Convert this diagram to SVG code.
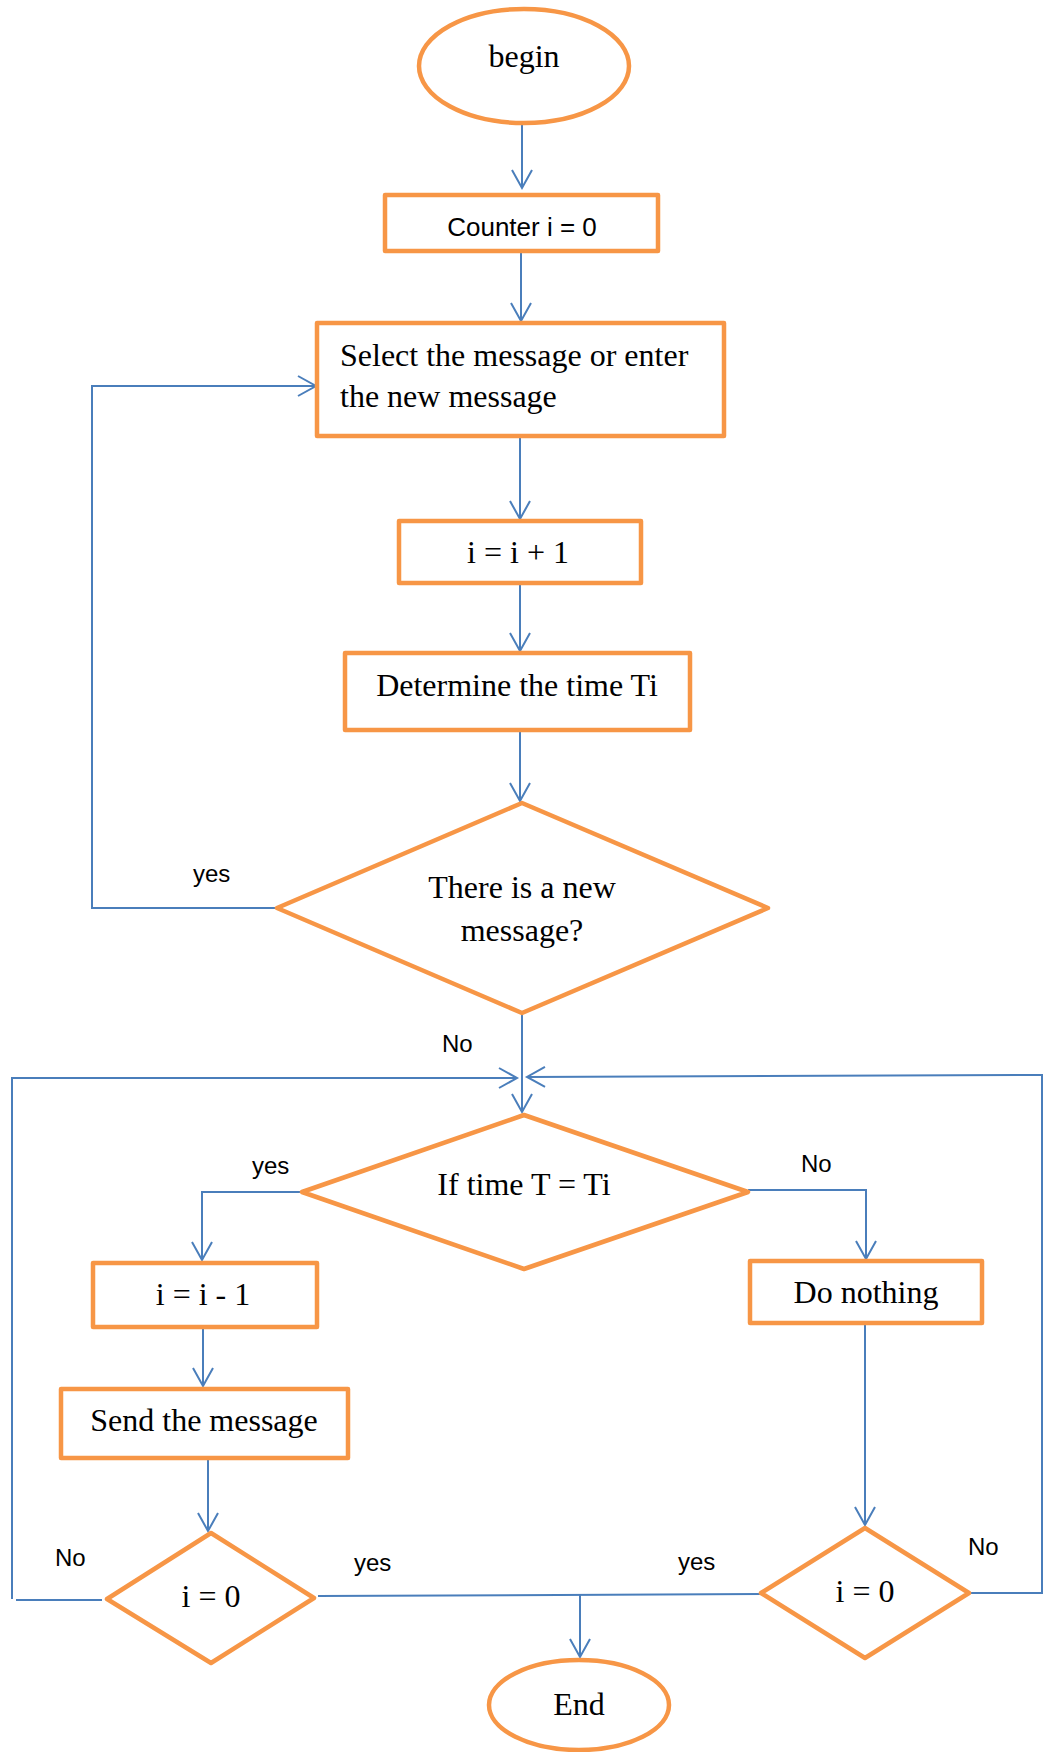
<svg xmlns="http://www.w3.org/2000/svg" width="1045" height="1752" viewBox="0 0 1045 1752">
<style>
.box{fill:#fff;stroke:#F79646;stroke-width:4.5;stroke-linejoin:round}
.conn{fill:none;stroke:#4A7EBB;stroke-width:2}
.serif{font-family:"Liberation Serif","Times New Roman",serif;font-size:32px;fill:#000}
.sans{font-family:"Liberation Sans",Arial,sans-serif;font-size:24px;fill:#000}
.mid{text-anchor:middle}
</style>
<defs>
<marker id="arr" markerUnits="userSpaceOnUse" markerWidth="24" markerHeight="24" viewBox="-20 -12 24 24" refX="0" refY="0" orient="auto">
<path d="M-18,-10 L0,0 L-18,10" fill="none" stroke="#4A7EBB" stroke-width="2"/>
</marker>
</defs>
<rect width="1045" height="1752" fill="#fff"/>
<g id="connectors">
<path class="conn" d="M522,124 L522,188" marker-end="url(#arr)"/>
<path class="conn" d="M521,251 L521,321" marker-end="url(#arr)"/>
<path class="conn" d="M520,436 L520,519" marker-end="url(#arr)"/>
<path class="conn" d="M520,583 L520,651" marker-end="url(#arr)"/>
<path class="conn" d="M520,730 L520,801" marker-end="url(#arr)"/>
<path class="conn" d="M277,908 L92,908 L92,386 L316,386" marker-end="url(#arr)"/>
<path class="conn" d="M522,1013 L522,1112" marker-end="url(#arr)"/>
<path class="conn" d="M102,1600 L16,1600"/>
<path class="conn" d="M12,1599 L12,1078 L517,1078" marker-end="url(#arr)"/>
<path class="conn" d="M969,1593 L1042,1593 L1042,1075 L527,1077" marker-end="url(#arr)"/>
<path class="conn" d="M302,1192 L202,1192 L202,1260" marker-end="url(#arr)"/>
<path class="conn" d="M748,1190 L866,1190 L866,1259" marker-end="url(#arr)"/>
<path class="conn" d="M203,1327 L203,1386" marker-end="url(#arr)"/>
<path class="conn" d="M208,1458 L208,1531" marker-end="url(#arr)"/>
<path class="conn" d="M865,1323 L865,1525" marker-end="url(#arr)"/>
<path class="conn" d="M318,1596 L761,1594"/>
<path class="conn" d="M580,1595 L580,1657" marker-end="url(#arr)"/>
<text class="sans" x="193" y="882">yes</text>
<text class="sans" x="442" y="1052">No</text>
<text class="sans" x="252" y="1174">yes</text>
<text class="sans" x="801" y="1172">No</text>
<text class="sans" x="55" y="1566">No</text>
<text class="sans" x="354" y="1571">yes</text>
<text class="sans" x="678" y="1570">yes</text>
<text class="sans" x="968" y="1555">No</text>
</g>
<g id="begin">
<ellipse class="box" cx="524" cy="66" rx="105" ry="57"/>
<text class="serif mid" x="524" y="67">begin</text>
</g>
<g id="counter">
<rect class="box" x="385" y="195" width="273" height="56"/>
<text class="sans mid" x="522" y="236" style="font-size:26px">Counter i = 0</text>
</g>
<g id="select">
<rect class="box" x="317" y="323" width="407" height="113"/>
<text class="serif" x="340" y="366">Select the message or enter</text>
<text class="serif" x="340" y="407">the new message</text>
</g>
<g id="increment">
<rect class="box" x="399" y="521" width="242" height="62"/>
<text class="serif mid" x="518" y="563">i = i + 1</text>
</g>
<g id="determine">
<rect class="box" x="345" y="653" width="345" height="77"/>
<text class="serif mid" x="517" y="696">Determine the time Ti</text>
</g>
<g id="newmsg">
<polygon class="box" points="522,803 768,908 522,1013 277,908"/>
<text class="serif mid" x="522" y="898">There is a new</text>
<text class="serif mid" x="522" y="941">message?</text>
</g>
<g id="timecheck">
<polygon class="box" points="524,1115 748,1192 524,1269 302,1192"/>
<text class="serif mid" x="524" y="1195">If time T = Ti</text>
</g>
<g id="decrement">
<rect class="box" x="93" y="1263" width="224" height="64"/>
<text class="serif mid" x="203" y="1305">i = i - 1</text>
</g>
<g id="send">
<rect class="box" x="61" y="1389" width="287" height="69"/>
<text class="serif mid" x="204" y="1431">Send the message</text>
</g>
<g id="donothing">
<rect class="box" x="750" y="1261" width="232" height="62"/>
<text class="serif mid" x="866" y="1303">Do nothing</text>
</g>
<g id="zero-left">
<polygon class="box" points="211,1533 314,1598 211,1663 107,1599"/>
<text class="serif mid" x="211" y="1607">i = 0</text>
</g>
<g id="zero-right">
<polygon class="box" points="865,1528 969,1593 865,1658 761,1593"/>
<text class="serif mid" x="865" y="1602">i = 0</text>
</g>
<g id="end">
<ellipse class="box" cx="579" cy="1705" rx="90" ry="45"/>
<text class="serif mid" x="579" y="1715">End</text>
</g>
</svg>
